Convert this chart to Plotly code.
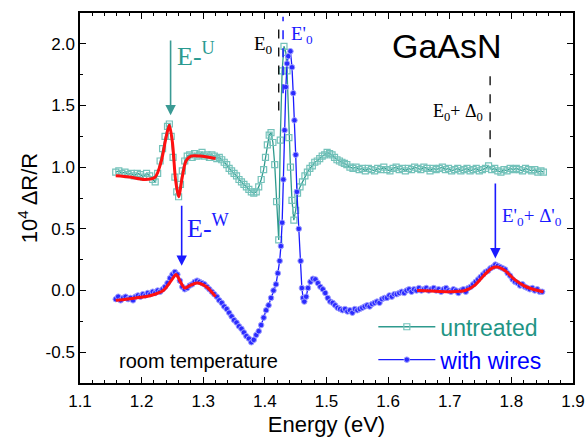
import plotly.graph_objects as go

# ---- data: untreated (offset ~1.0) ----
E_untreated = [1.158,1.163,1.168,1.173,1.178,1.183,1.188,1.193,1.198,1.203,1.208,1.213,1.218,1.222,1.226,1.230,1.234,1.238,1.242,1.245,1.248,1.251,1.254,1.257,1.260,1.263,1.266,1.270,1.274,1.278,1.282,1.286,1.290,1.294,1.298,1.302,1.306,1.310,1.314,1.318,1.322,1.326,1.330,1.334,1.338,1.342,1.346,1.350,1.354,1.358,1.362,1.366,1.370,1.374,1.378,1.382,1.386,1.390,1.394,1.398,1.401,1.404,1.407,1.410,1.413,1.416,1.419,1.4225,1.425,1.428,1.431,1.434,1.436,1.439,1.4415,1.444,1.447,1.450,1.453,1.457,1.461,1.465,1.469,1.473,1.477,1.481,1.485,1.489,1.493,1.497,1.501,1.505,1.509,1.513,1.517,1.521,1.525,1.529,1.533,1.538,1.543,1.548,1.553,1.558,1.563,1.568,1.573,1.578,1.583,1.588,1.593,1.598,1.603,1.608,1.613,1.618,1.623,1.628,1.633,1.638,1.643,1.648,1.653,1.658,1.663,1.668,1.673,1.678,1.683,1.688,1.693,1.698,1.703,1.708,1.713,1.718,1.723,1.728,1.733,1.738,1.743,1.748,1.753,1.758,1.763,1.768,1.773,1.778,1.783,1.788,1.793,1.798,1.803,1.808,1.813,1.818,1.823,1.828,1.833,1.838,1.843,1.848,1.852]
R_untreated = [0.96,0.97,0.95,0.96,0.94,0.95,0.93,0.95,0.94,0.92,0.95,0.93,0.90,0.88,0.95,1.05,1.15,1.25,1.33,1.35,1.25,1.08,0.92,0.80,0.76,0.86,0.97,1.05,1.09,1.10,1.08,1.11,1.09,1.10,1.12,1.09,1.10,1.08,1.10,1.09,1.07,1.08,1.06,1.04,1.02,0.99,0.97,0.95,0.93,0.90,0.88,0.86,0.84,0.82,0.80,0.79,0.80,0.84,0.90,0.98,1.08,1.18,1.26,1.28,1.20,1.02,0.72,0.41,1.22,1.78,1.98,1.93,1.78,1.24,1.00,0.73,0.57,0.65,0.79,0.84,0.88,0.93,0.96,0.99,1.01,1.04,1.05,1.07,1.09,1.10,1.12,1.11,1.10,1.08,1.06,1.05,1.04,1.03,1.02,1.00,0.99,1.00,0.98,0.99,0.97,0.99,0.98,0.97,0.99,0.98,1.00,0.98,0.97,0.99,1.00,0.98,0.99,0.97,0.99,0.98,1.00,0.99,0.98,1.00,0.99,0.97,0.99,0.98,0.99,1.00,0.98,0.99,0.97,0.98,0.99,0.97,0.98,0.99,0.97,0.98,0.99,0.97,0.98,0.99,1.01,0.98,0.99,0.97,0.96,0.98,0.97,0.99,0.98,0.99,0.98,0.97,0.99,0.98,0.97,0.98,0.96,0.97,0.96]

# ---- data: with wires (offset ~0) ----
E_wires = [1.158,1.162,1.166,1.170,1.174,1.178,1.182,1.186,1.190,1.194,1.198,1.202,1.206,1.210,1.214,1.218,1.222,1.226,1.230,1.234,1.238,1.242,1.246,1.250,1.254,1.258,1.262,1.266,1.270,1.274,1.278,1.282,1.286,1.290,1.294,1.298,1.302,1.306,1.310,1.314,1.318,1.322,1.326,1.330,1.334,1.338,1.342,1.346,1.350,1.354,1.358,1.362,1.366,1.370,1.374,1.378,1.382,1.386,1.390,1.394,1.398,1.402,1.406,1.410,1.414,1.418,1.421,1.424,1.426,1.428,1.430,1.432,1.434,1.436,1.438,1.4415,1.444,1.446,1.448,1.450,1.452,1.455,1.458,1.460,1.462,1.464,1.467,1.470,1.474,1.478,1.482,1.486,1.490,1.494,1.498,1.502,1.506,1.510,1.514,1.518,1.522,1.526,1.530,1.534,1.538,1.542,1.546,1.550,1.554,1.558,1.562,1.566,1.570,1.574,1.578,1.582,1.586,1.590,1.594,1.598,1.602,1.606,1.610,1.614,1.618,1.622,1.626,1.630,1.634,1.638,1.642,1.646,1.650,1.654,1.658,1.662,1.666,1.670,1.674,1.678,1.682,1.686,1.690,1.694,1.698,1.702,1.706,1.710,1.714,1.718,1.722,1.726,1.730,1.734,1.738,1.742,1.746,1.750,1.754,1.758,1.762,1.766,1.770,1.774,1.778,1.782,1.786,1.790,1.794,1.798,1.802,1.806,1.810,1.814,1.818,1.822,1.826,1.830,1.834,1.838,1.842,1.846,1.850]
R_wires = [-0.07,-0.05,-0.08,-0.06,-0.05,-0.07,-0.06,-0.08,-0.05,-0.04,-0.05,-0.03,-0.04,-0.02,-0.03,-0.01,-0.02,0.00,-0.01,0.01,0.03,0.06,0.10,0.13,0.15,0.13,0.08,0.03,0.01,0.02,0.04,0.05,0.07,0.08,0.07,0.06,0.05,0.03,0.01,-0.01,-0.03,-0.05,-0.08,-0.10,-0.13,-0.15,-0.18,-0.21,-0.24,-0.26,-0.29,-0.31,-0.34,-0.37,-0.39,-0.42,-0.40,-0.36,-0.33,-0.28,-0.22,-0.16,-0.12,-0.06,0.00,0.05,0.14,0.24,0.36,0.55,0.90,1.30,1.65,1.84,1.90,1.94,1.81,1.60,1.38,1.10,0.80,0.50,0.24,0.02,-0.06,-0.09,-0.05,0.02,0.07,0.095,0.09,0.06,0.03,0.01,-0.02,-0.06,-0.09,-0.10,-0.12,-0.14,-0.15,-0.16,-0.15,-0.17,-0.16,-0.18,-0.15,-0.16,-0.15,-0.14,-0.13,-0.12,-0.13,-0.11,-0.10,-0.09,-0.10,-0.07,-0.06,-0.06,-0.04,-0.05,-0.03,-0.03,-0.02,-0.01,-0.02,0.00,0.01,-0.01,0.01,0.00,0.02,0.00,0.01,0.02,0.00,0.01,0.02,0.00,0.01,-0.01,0.01,0.02,0.00,-0.01,0.01,0.00,-0.02,0.00,0.01,-0.01,0.02,0.03,0.05,0.07,0.09,0.11,0.13,0.15,0.16,0.18,0.19,0.21,0.20,0.19,0.18,0.17,0.14,0.12,0.09,0.07,0.06,0.04,0.05,0.03,0.02,0.01,0.02,0.00,0.01,-0.01,-0.01]

# ---- fitted curves (red) ----
E_fit_U = [1.158,1.180,1.205,1.222,1.232,1.240,1.245,1.250,1.255,1.260,1.266,1.272,1.280,1.295,1.320]
R_fit_U = [0.93,0.92,0.90,0.92,1.05,1.25,1.34,1.20,0.90,0.76,0.92,1.05,1.09,1.09,1.07]
E_fit_W = [1.158,1.190,1.215,1.235,1.248,1.256,1.263,1.270,1.278,1.290,1.305,1.320]
R_fit_W = [-0.08,-0.06,-0.04,0.00,0.08,0.13,0.07,0.02,0.04,0.06,0.03,-0.05]
E_fit_D = [1.647,1.670,1.700,1.725,1.740,1.755,1.768,1.777,1.790,1.805,1.820,1.835,1.852]
R_fit_D = [0.00,-0.005,-0.01,0.00,0.04,0.12,0.18,0.19,0.16,0.09,0.04,0.01,-0.01]

# ---- axis ticks ----
x_ticks = [1.1,1.2,1.3,1.4,1.5,1.6,1.7,1.8,1.9]
y_ticks = [-0.5,0.0,0.5,1.0,1.5,2.0]

TEAL = "#2e9a8e"
TEAL_M = "#74c2ba"
BLUE = "#1a1aff"
SANS = "Liberation Sans, Arial, sans-serif"
SERIF = "Liberation Serif, Times New Roman, serif"

fig = go.Figure()
fig.add_trace(go.Scatter(
    x=E_untreated, y=R_untreated, mode="lines+markers",
    name="<span style='color:#1f9585'>untreated</span>",
    line=dict(color=TEAL, width=1.3),
    marker=dict(symbol="square-open", size=6, color=TEAL_M, line=dict(width=1.2, color=TEAL_M))))
fig.add_trace(go.Scatter(
    x=E_wires, y=R_wires, mode="lines+markers",
    name="<span style='color:#0000ff'>with wires</span>",
    line=dict(color=BLUE, width=1.3),
    marker=dict(symbol="circle", size=5.5, color="#2b2bff", line=dict(width=1, color="#a0a0ff"))))
for ex, ry in [(E_fit_U, R_fit_U), (E_fit_W, R_fit_W), (E_fit_D, R_fit_D)]:
    fig.add_trace(go.Scatter(x=ex, y=ry, mode="lines", showlegend=False,
                             line=dict(color="#ff1010", width=3, shape="spline", smoothing=0.8)))

# dashed marker lines
fig.add_shape(type="line", x0=1.4225, x1=1.4225, y0=1.46, y1=2.15, line=dict(color="black", width=1.3, dash="dash"))
fig.add_shape(type="line", x0=1.4295, x1=1.4295, y0=1.6, y1=2.22, line=dict(color=BLUE, width=1.5, dash="dash"))
fig.add_shape(type="line", x0=1.7655, x1=1.7655, y0=1.08, y1=1.74, line=dict(color="black", width=1.3, dash="dash"))

# arrows
fig.add_annotation(x=1.247, y=1.42, ax=1.247, ay=2.04, axref="x", ayref="y", xref="x", yref="y",
                   showarrow=True, arrowhead=2, arrowsize=1.3, arrowwidth=1.6, arrowcolor="#3a9a94", text="")
fig.add_annotation(x=1.265, y=0.20, ax=1.265, ay=0.70, axref="x", ayref="y", xref="x", yref="y",
                   showarrow=True, arrowhead=2, arrowsize=1.3, arrowwidth=1.6, arrowcolor=BLUE, text="")
fig.add_annotation(x=1.774, y=0.26, ax=1.774, ay=0.88, axref="x", ayref="y", xref="x", yref="y",
                   showarrow=True, arrowhead=2, arrowsize=1.3, arrowwidth=1.6, arrowcolor=BLUE, text="")

# labels
def label(x, y, text, size, color, family=SERIF):
    fig.add_annotation(x=x, y=y, xref="x", yref="y", text=text, showarrow=False,
                       font=dict(family=family, size=size, color=color))

label(1.288, 1.91, "E-<sup>U</sup>", 26, "#2a9a90")
label(1.308, 0.52, "E-<sup>W</sup>", 26, BLUE)
label(1.398, 1.99, "E<sub>0</sub>", 19, "black")
label(1.460, 2.07, "E'<sub>0</sub>", 19, BLUE)
label(1.714, 1.44, "E<sub>0</sub>+ Δ<sub>0</sub>", 18, "black")
label(1.833, 0.60, "E'<sub>0</sub>+ Δ'<sub>0</sub>", 19, BLUE)
label(1.695, 1.98, "GaAsN", 34, "black", SANS)
label(1.293, -0.57, "room temperature", 20, "black", SANS)

axis_common = dict(showline=True, linecolor="black", linewidth=1.5, mirror="allticks",
                   ticks="inside", ticklen=6, tickwidth=1.2, tickcolor="black",
                   showgrid=False, zeroline=False, automargin=False,
                   tickfont=dict(family=SANS, size=17, color="black"))
fig.update_xaxes(range=[1.1, 1.9], tickvals=x_ticks, ticktext=[f"{v:.1f}" for v in x_ticks],
                 ticklabelstandoff=2,
                 minor=dict(dtick=0.02, ticks="inside", ticklen=3, tickcolor="black", tickwidth=1),
                 title=dict(text="Energy (eV)", font=dict(family=SANS, size=22, color="black"), standoff=6),
                 **axis_common)
fig.update_yaxes(range=[-0.75, 2.25], tickvals=y_ticks, ticktext=[f"{v:.1f}" for v in y_ticks],
                 minor=dict(dtick=0.25, ticks="inside", ticklen=3, tickcolor="black", tickwidth=1),
                 title=dict(text="10<sup>4</sup> ΔR/R", font=dict(family=SANS, size=22, color="black"), standoff=2),
                 **axis_common)

fig.update_layout(
    width=587, height=444,
    margin=dict(l=80, r=14, t=13, b=61, autoexpand=False),
    paper_bgcolor="white", plot_bgcolor="white",
    showlegend=True,
    legend=dict(x=0.595, y=0.21, xanchor="left", yanchor="top", bgcolor="rgba(0,0,0,0)",
                font=dict(family=SANS, size=23), itemwidth=57, tracegroupgap=0),
)

fig.write_html("out.html", config={"displayModeBar": False},
               post_script="document.body.style.margin='0';document.body.style.overflow='hidden';")
